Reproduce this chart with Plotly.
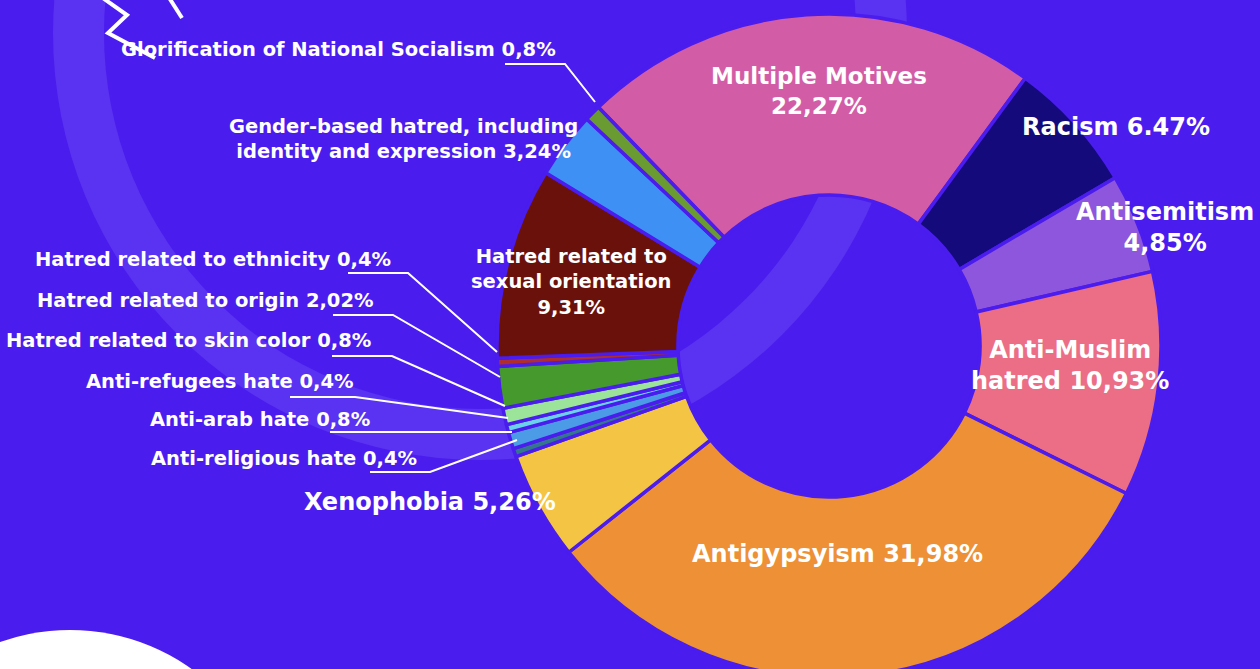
import plotly.graph_objects as go

# ---------------- data ----------------
categories = [
    "Multiple Motives", "Racism", "Antisemitism", "Anti-Muslim hatred",
    "Antigypsyism", "Xenophobia", "Anti-religious hate", "Anti-arab hate",
    "Anti-refugees hate", "Hatred related to skin color",
    "Hatred related to origin", "Hatred related to ethnicity",
    "Hatred related to sexual orientation",
    "Gender-based hatred, including identity and expression",
    "Glorification of National Socialism",
]
values = [22.27, 6.47, 4.85, 10.93, 31.98, 5.26, 0.4, 0.8, 0.4, 0.8,
          2.02, 0.4, 9.31, 3.24, 0.8]
label_texts = [
    "Multiple Motives<br>22,27%", "Racism 6.47%", "Antisemitism<br>4,85%",
    "Anti-Muslim<br>hatred 10,93%", "Antigypsyism 31,98%", "Xenophobia 5,26%",
    "Anti-religious hate 0,4%", "Anti-arab hate 0,8%", "Anti-refugees hate 0,4%",
    "Hatred related to skin color 0,8%", "Hatred related to origin 2,02%",
    "Hatred related to ethnicity 0,4%",
    "Hatred related to<br>sexual orientation<br>9,31%",
    "Gender-based hatred, including<br>identity and expression 3,24%",
    "Glorification of National Socialism 0,8%",
]
colors = ["#D35CA6", "#140A7B", "#8E56DC", "#EC6D86", "#EE9035", "#F4C444",
          "#34768C", "#4B9BE6", "#6AD2EA", "#9DE49B", "#45992D", "#AF2D2D",
          "#6A110B", "#3F90F5", "#6A9B33"]

BG = "#4A1CEE"
BAND = "#5A32F1"
W, H = 1260, 700          # page is 669 tall; the donut runs off the bottom edge
FONT = "DejaVu Sans"

fig = go.Figure()

# donut (centre ~ (829, 346) px, radius ~332 px)
cx, cy, R = 829, 346, 332
fig.add_trace(go.Pie(
    labels=categories, values=values, sort=False, direction="clockwise",
    rotation=-44, hole=0.455, textinfo="none", hoverinfo="label+value",
    marker=dict(colors=colors, line=dict(color=BG, width=3.5)),
    domain=dict(x=[(cx - R) / W, (cx + R) / W],
                y=[(H - cy - R) / H, (H - cy + R) / H]),
    showlegend=False,
))

# invisible pixel axes for decoration / annotations
fig.update_xaxes(range=[0, W], visible=False, fixedrange=True)
fig.update_yaxes(range=[H, 0], visible=False, fixedrange=True)

shapes = []
# large translucent ring behind the donut
rcx, rcy, r_out, r_in = 480, 33, 427, 376
shapes.append(dict(type="circle", xref="x", yref="y", layer="below",
                   x0=rcx - r_out, x1=rcx + r_out, y0=rcy - r_out, y1=rcy + r_out,
                   fillcolor=BAND, line=dict(width=0)))
shapes.append(dict(type="circle", xref="x", yref="y", layer="below",
                   x0=rcx - r_in, x1=rcx + r_in, y0=rcy - r_in, y1=rcy + r_in,
                   fillcolor=BG, line=dict(width=0)))
# white circle bottom-left
shapes.append(dict(type="circle", xref="x", yref="y", layer="below",
                   x0=70 - 210, x1=70 + 210, y0=840 - 210, y1=840 + 210,
                   fillcolor="white", line=dict(width=0)))
# zigzag decoration
shapes.append(dict(type="path", xref="x", yref="y", layer="above",
                   path="M 100 -4 L 127 15 L 108 33 L 155 58",
                   line=dict(color="white", width=4)))
shapes.append(dict(type="path", xref="x", yref="y", layer="above",
                   path="M 168 -4 L 182 18",
                   line=dict(color="white", width=4)))

# leader lines
leaders = [
    [(505, 64), (565, 64), (595, 102)],
    [(348, 273), (408, 273), (497, 352)],
    [(333, 315), (393, 315), (500, 377)],
    [(332, 356), (392, 356), (505, 406)],
    [(290, 397), (355, 397), (508, 418)],
    [(330, 432), (512, 432)],
    [(370, 472), (430, 472), (517, 440)],
]
for pts in leaders:
    p = "M " + " L ".join(f"{x} {y}" for x, y in pts)
    shapes.append(dict(type="path", xref="x", yref="y", layer="above", path=p,
                       line=dict(color="white", width=2)))

# annotation placements (text index, x, y, size)
place = {
    0: (819, 91, 23), 1: (1116, 127, 24), 2: (1165, 227, 24),
    3: (1070, 365, 24), 4: (837, 554, 24), 5: (430, 502, 24),
    6: (283.5, 458, 19.5), 7: (259.5, 419, 19.5), 8: (220, 381, 19.5),
    9: (188.5, 340, 19.5), 10: (205, 300, 19.5), 11: (213, 259, 19.5),
    12: (571, 282, 19.5), 13: (403, 139, 19.5), 14: (338.5, 49, 19.5),
}
annotations = []
for i, (x, y, s) in place.items():
    annotations.append(dict(x=x, y=y, xref="x", yref="y", text=label_texts[i],
                            showarrow=False, xanchor="center", yanchor="middle",
                            align="center",
                            font=dict(family=FONT, size=s, color="white", weight=700)))

fig.update_layout(
    width=W, height=H, margin=dict(l=0, r=0, t=0, b=0),
    paper_bgcolor=BG, plot_bgcolor=BG,
    shapes=shapes, annotations=annotations, showlegend=False,
)

fig.write_html("out.html",
               config={"displayModeBar": False},
               post_script="document.body.style.margin='0';"
                           "document.body.style.overflow='hidden';"
                           f"document.body.style.background='{BG}';")
